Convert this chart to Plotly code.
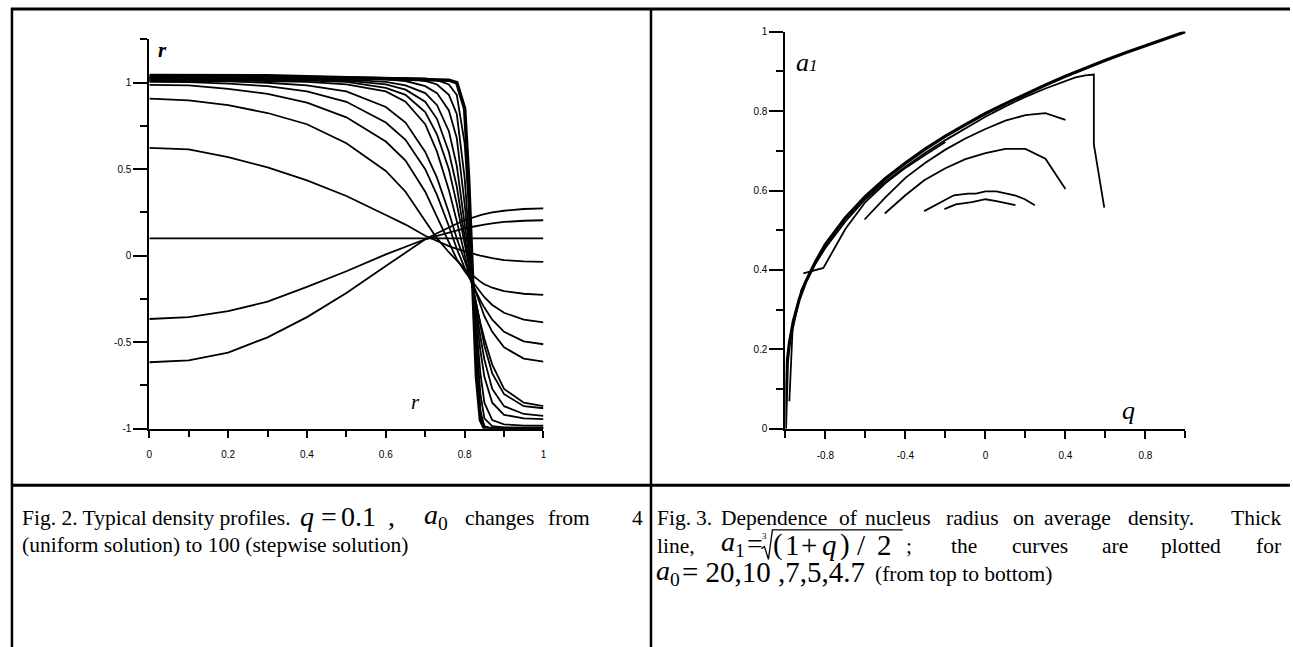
import plotly.graph_objects as go

W, H = 1293, 647

# ---------------- Fig. 2 data (density profiles, q = 0.1) ----------------
R_GRID = [0, 0.1, 0.2, 0.3, 0.4, 0.5, 0.6, 0.65, 0.7, 0.73, 0.76, 0.78, 0.8,
          0.81, 0.82, 0.83, 0.84, 0.85, 0.87, 0.9, 0.95, 1.0]

RHO_FLAT = [0.1, 0.1, 0.1, 0.1, 0.1, 0.1, 0.1, 0.1, 0.1, 0.1, 0.1, 0.1, 0.1,
            0.1, 0.1, 0.1, 0.1, 0.1, 0.1, 0.1, 0.1, 0.1]
RHO_UP_1 = [-0.366, -0.355, -0.32, -0.266, -0.18, -0.09, 0.008, 0.05, 0.095, 0.115, 0.135,
            0.148, 0.158, 0.163, 0.168, 0.172, 0.176, 0.18, 0.187, 0.195, 0.202, 0.205]
RHO_UP_2 = [-0.616, -0.605, -0.56, -0.472, -0.355, -0.215, -0.06, 0.02, 0.095, 0.13, 0.165,
            0.185, 0.205, 0.213, 0.22, 0.228, 0.235, 0.24, 0.25, 0.26, 0.27, 0.274]
RHO_D1 = [0.623, 0.615, 0.57, 0.51, 0.435, 0.345, 0.235, 0.18, 0.115, 0.085, 0.055,
          0.04, 0.025, 0.018, 0.012, 0.006, 0.0, -0.005, -0.014, -0.025, -0.033, -0.036]
RHO_D2 = [0.908, 0.898, 0.87, 0.825, 0.76, 0.65, 0.49, 0.37, 0.2, 0.1, 0.02,
          -0.03, -0.075, -0.095, -0.115, -0.135, -0.15, -0.165, -0.185, -0.205, -0.22, -0.226]
RHO_D3 = [0.988, 0.985, 0.965, 0.935, 0.885, 0.8, 0.66, 0.55, 0.37, 0.22, 0.07,
          -0.02, -0.09, -0.12, -0.15, -0.18, -0.21, -0.24, -0.285, -0.33, -0.37, -0.385]
RHO_D4 = [1.005, 1.003, 0.995, 0.98, 0.95, 0.89, 0.77, 0.67, 0.5, 0.35, 0.17,
          0.04, -0.07, -0.12, -0.17, -0.22, -0.26, -0.3, -0.37, -0.44, -0.495, -0.512]
RHO_D5 = [1.01, 1.01, 1.008, 1.0, 0.985, 0.95, 0.86, 0.77, 0.6, 0.45, 0.25,
          0.1, -0.03, -0.1, -0.16, -0.23, -0.29, -0.35, -0.44, -0.53, -0.595, -0.613]
RHO_D6 = [1.015, 1.015, 1.013, 1.01, 1.005, 0.99, 0.95, 0.89, 0.76, 0.6, 0.38,
          0.2, 0.0, -0.09, -0.18, -0.29, -0.39, -0.48, -0.63, -0.77, -0.85, -0.869]
RHO_D7 = [1.018, 1.018, 1.017, 1.015, 1.012, 1.005, 0.97, 0.93, 0.83, 0.7, 0.5,
          0.3, 0.07, -0.05, -0.17, -0.3, -0.42, -0.52, -0.68, -0.8, -0.87, -0.882]
RHO_D8 = [1.022, 1.022, 1.021, 1.02, 1.018, 1.012, 0.99, 0.96, 0.89, 0.79, 0.6,
          0.4, 0.12, -0.02, -0.16, -0.32, -0.47, -0.6, -0.77, -0.87, -0.915, -0.926]
RHO_D9 = [1.026, 1.026, 1.025, 1.024, 1.022, 1.018, 1.005, 0.985, 0.94, 0.87, 0.72,
          0.52, 0.2, 0.02, -0.15, -0.36, -0.55, -0.7, -0.85, -0.92, -0.94, -0.945]
RHO_D10 = [1.03, 1.03, 1.03, 1.029, 1.027, 1.025, 1.02, 1.01, 0.98, 0.94, 0.84,
           0.68, 0.3, 0.07, -0.15, -0.42, -0.68, -0.85, -0.95, -0.975, -0.982, -0.983]
RHO_D11 = [1.034, 1.034, 1.034, 1.033, 1.031, 1.03, 1.028, 1.025, 1.01, 0.99, 0.93,
           0.82, 0.45, 0.15, -0.15, -0.5, -0.8, -0.94, -0.985, -0.993, -0.995, -0.995]
RHO_D12 = [1.038, 1.038, 1.038, 1.037, 1.035, 1.032, 1.03, 1.028, 1.025, 1.015, 0.99,
           0.93, 0.65, 0.3, -0.13, -0.6, -0.9, -0.985, -1.0, -1.0, -1.0, -1.0]
RHO_STEP = [1.042, 1.042, 1.042, 1.04, 1.035, 1.03, 1.027, 1.025, 1.022, 1.02, 1.015,
            1.0, 0.85, 0.45, -0.12, -0.7, -0.95, -0.998, -1.0, -1.0, -1.0, -1.0]

THIN_PROFILES = [RHO_FLAT, RHO_UP_1, RHO_UP_2, RHO_D1, RHO_D2, RHO_D3, RHO_D4, RHO_D5,
                 RHO_D6, RHO_D7, RHO_D8, RHO_D9, RHO_D10, RHO_D11, RHO_D12]

R_TICKS = [0, 0.2, 0.4, 0.6, 0.8, 1]
R_TICKTEXT = ["0", "0.2", "0.4", "0.6", "0.8", "1"]
RHO_TICKS = [-1, -0.5, 0, 0.5, 1]
RHO_TICKTEXT = ["-1", "-0.5", "0", "0.5", "1"]

# ---------------- Fig. 3 data (nucleus radius vs average density) ----------------
THICK_Q = [-1, -0.995, -0.99, -0.98, -0.96, -0.93, -0.9, -0.85, -0.8, -0.7, -0.6, -0.5,
           -0.4, -0.3, -0.2, -0.1, 0, 0.1, 0.2, 0.3, 0.4, 0.5, 0.6, 0.7, 0.8, 0.9, 1.0]
THICK_A = [0, 0.136, 0.171, 0.215, 0.271, 0.327, 0.368, 0.42, 0.464, 0.531, 0.585, 0.63,
           0.669, 0.705, 0.737, 0.766, 0.794, 0.819, 0.843, 0.866, 0.888, 0.909, 0.928,
           0.947, 0.965, 0.983, 1.0]

A20_Q = [-0.98, -0.964, -0.92, -0.85, -0.8, -0.7, -0.6, -0.5, -0.4, -0.3, -0.2, -0.1, 0,
         0.1, 0.2, 0.3, 0.4, 0.45, 0.5, 0.542, 0.542, 0.594]
A20_A = [0.069, 0.25, 0.35, 0.415, 0.455, 0.522, 0.578, 0.622, 0.66, 0.695, 0.727, 0.757,
         0.786, 0.812, 0.836, 0.857, 0.876, 0.885, 0.89, 0.892, 0.716, 0.557]
A20B_Q = [-0.91, -0.81, -0.7, -0.6, -0.5, -0.4, -0.3, -0.2]
A20B_A = [0.391, 0.405, 0.503, 0.571, 0.618, 0.657, 0.69, 0.722]
A10_Q = [-0.604, -0.5, -0.4, -0.3, -0.2, -0.1, 0, 0.1, 0.2, 0.3, 0.4]
A10_A = [0.527, 0.583, 0.632, 0.67, 0.703, 0.731, 0.755, 0.776, 0.79, 0.795, 0.778]
A7_Q = [-0.503, -0.4, -0.306, -0.2, -0.1, 0, 0.1, 0.2, 0.3, 0.4]
A7_A = [0.542, 0.588, 0.626, 0.656, 0.679, 0.694, 0.705, 0.705, 0.68, 0.604]
A5_Q = [-0.306, -0.209, -0.158, -0.087, -0.047, 0, 0.055, 0.146, 0.197, 0.247]
A5_A = [0.548, 0.575, 0.588, 0.592, 0.592, 0.598, 0.598, 0.588, 0.578, 0.563]
A47_Q = [-0.205, -0.148, -0.067, 0, 0.055, 0.15]
A47_A = [0.553, 0.565, 0.571, 0.578, 0.573, 0.563]

Q_TICKS = [-0.8, -0.4, 0, 0.4, 0.8]
Q_TICKTEXT = ["-0.8", "-0.4", "0", "0.4", "0.8"]
Q_MINOR = [-1, -0.6, -0.2, 0.2, 0.6, 1]
A_TICKS = [0, 0.2, 0.4, 0.6, 0.8, 1]
A_TICKTEXT = ["0", "0.2", "0.4", "0.6", "0.8", "1"]

# ---------------- build figure ----------------
def fx(p):
    return p / W


def fy(p):
    return 1 - p / H


fig = go.Figure()
for prof in THIN_PROFILES:
    fig.add_trace(go.Scatter(x=R_GRID, y=prof, mode="lines", xaxis="x", yaxis="y",
                             line=dict(color="black", width=1.8), hoverinfo="skip"))
fig.add_trace(go.Scatter(x=R_GRID, y=RHO_STEP, mode="lines", xaxis="x", yaxis="y",
                         line=dict(color="black", width=3.5), hoverinfo="skip"))

fig.add_trace(go.Scatter(x=THICK_Q, y=THICK_A, mode="lines", xaxis="x2", yaxis="y2",
                         line=dict(color="black", width=3.2), hoverinfo="skip"))
for qq, aa in [(A20_Q, A20_A), (A20B_Q, A20B_A), (A10_Q, A10_A), (A7_Q, A7_A),
               (A5_Q, A5_A), (A47_Q, A47_A)]:
    fig.add_trace(go.Scatter(x=qq, y=aa, mode="lines", xaxis="x2", yaxis="y2",
                             line=dict(color="black", width=1.8), hoverinfo="skip"))

tickfont = dict(family="Liberation Sans", size=10, color="black")
common = dict(showgrid=False, zeroline=False, showline=True, linecolor="black",
              linewidth=2, ticks="outside", tickcolor="black", tickwidth=1.5,
              tickfont=tickfont, tickmode="array")

fig.update_layout(
    width=W, height=H, margin=dict(l=0, r=0, t=0, b=0),
    paper_bgcolor="white", plot_bgcolor="white", showlegend=False,
    xaxis=dict(domain=[fx(147), fx(543)], range=[0, 1], anchor="y",
               tickvals=R_TICKS, ticktext=R_TICKTEXT, ticklen=7, ticklabelstandoff=8,
               minor=dict(tickvals=[0.1, 0.3, 0.5, 0.7, 0.9], ticklen=6, ticks="outside",
                          tickcolor="black", tickwidth=1.5, showgrid=False),
               **common),
    yaxis=dict(domain=[fy(431), fy(35)], range=[-1, 1.2505], anchor="x",
               tickvals=RHO_TICKS, ticktext=RHO_TICKTEXT, ticklen=14,
               minor=dict(tickvals=[-0.75, -0.25, 0.25, 0.75, 1.25], ticklen=7, ticks="outside",
                          tickcolor="black", tickwidth=1.5, showgrid=False),
               **common),
    xaxis2=dict(domain=[fx(786), fx(1188)], range=[-1, 1], anchor="y2",
                tickvals=Q_TICKS, ticktext=Q_TICKTEXT, ticklen=8, ticklabelstandoff=8,
                minor=dict(tickvals=Q_MINOR, ticklen=7, ticks="outside",
                           tickcolor="black", tickwidth=1.5, showgrid=False),
                **common),
    yaxis2=dict(domain=[fy(431), fy(27)], range=[0, 1.0005], anchor="x2",
                tickvals=A_TICKS, ticktext=A_TICKTEXT, ticklen=14,
                minor=dict(tickvals=[0.1, 0.3, 0.5, 0.7, 0.9], ticklen=7, ticks="outside",
                           tickcolor="black", tickwidth=1.5, showgrid=False),
                **common),
)


def P(x, y):
    return f"{fx(x):.5f},{fy(y):.5f}"


# table borders + radical sign of the caption formula
shapes = [
    dict(type="line", xref="paper", yref="paper", x0=fx(8), x1=1, y0=fy(4), y1=fy(4),
         line=dict(color="black", width=3)),
    dict(type="line", xref="paper", yref="paper", x0=fx(9), x1=fx(9), y0=fy(3), y1=-0.02,
         line=dict(color="black", width=2.5)),
    dict(type="line", xref="paper", yref="paper", x0=fx(651), x1=fx(651), y0=fy(3), y1=-0.02,
         line=dict(color="black", width=2.5)),
    dict(type="line", xref="paper", yref="paper", x0=fx(9), x1=1, y0=fy(488.5), y1=fy(488.5),
         line=dict(color="black", width=3)),
    dict(type="path", xref="paper", yref="paper",
         path=f"M {P(762, 553)} L {P(765, 551)} L {P(769, 564)} L {P(773, 534)} L {P(904, 534)}",
         line=dict(color="black", width=1.3)),
]
fig.update_layout(shapes=shapes)

SERIF = "Liberation Serif"


def txt(x, y, text, size, anchor="left", family=SERIF):
    shift = -2 if anchor == "left" else (2 if anchor == "right" else 0)
    fig.add_annotation(x=fx(x), y=fy(y), xref="paper", yref="paper", text=text,
                       showarrow=False, xanchor=anchor, yanchor="middle", xshift=shift,
                       borderpad=0,
                       font=dict(family=family, size=size, color="black"))


# axis labels inside plots
txt(157, 46, "<b><i>r</i></b>", 21)
txt(411, 404, "<i>r</i>", 21)
txt(798, 58, "<i>a</i><span style='font-size:17px'><i>1</i></span>", 26)
txt(1125, 413, "<i>q</i>", 26)

# captions
CAP = 21.5
MATH = 28
# left caption, line 1 (justified)
txt(20, 522, "Fig. 2. Typical density profiles.", CAP)
txt(299, 520, "<i>q</i>", MATH)
txt(320, 520, "=", MATH)
txt(341, 520, "0.1", MATH)
txt(388, 520, ",", MATH)
txt(424, 520, "<i>a</i><sub>0</sub>", MATH)
txt(465, 522, "changes", CAP)
txt(549, 522, "from", CAP)
txt(642, 522, "4", CAP, anchor="right")
# left caption, line 2
txt(20, 549, "(uniform solution) to 100 (stepwise solution)", CAP)

# right caption, line 1 (justified)
LINE1 = [(658, "Fig."), (697, "3."), (722, "Dependence"), (841, "of"), (867, "nucleus"),
         (948, "radius"), (1016, "on"), (1047, "average"), (1131, "density.")]
for xx, word in LINE1:
    txt(xx, 522, word, CAP)
txt(1283, 522, "Thick", CAP, anchor="right")
# line 2
txt(658, 550, "line,", CAP)
txt(722, 548, "<i>a</i><sub>1</sub>", MATH)
txt(748, 548, "=", MATH)
txt(764, 540, "3", 9)
for xx, ch in [(775, "("), (787, "1"), (803, "+"), (824, "<i>q</i>"), (842, ")"),
               (859, "/"), (879, "2")]:
    txt(xx, 549, ch, 29)
txt(908, 550, ";", CAP)
for xx, word in [(953, "the"), (1015, "curves"), (1105, "are"), (1164, "plotted")]:
    txt(xx, 550, word, CAP)
txt(1283, 550, "for", CAP, anchor="right")
# line 3
txt(657, 577, "<i>a</i><sub>0</sub>", MATH)
txt(683, 577, "= 20,10 ,7,5,4.7", 29)
txt(877, 579, "(from top to bottom)", CAP)

fig.write_html("out.html", config={"displayModeBar": False},
               post_script="document.body.style.margin='0';document.body.style.overflow='hidden';")
